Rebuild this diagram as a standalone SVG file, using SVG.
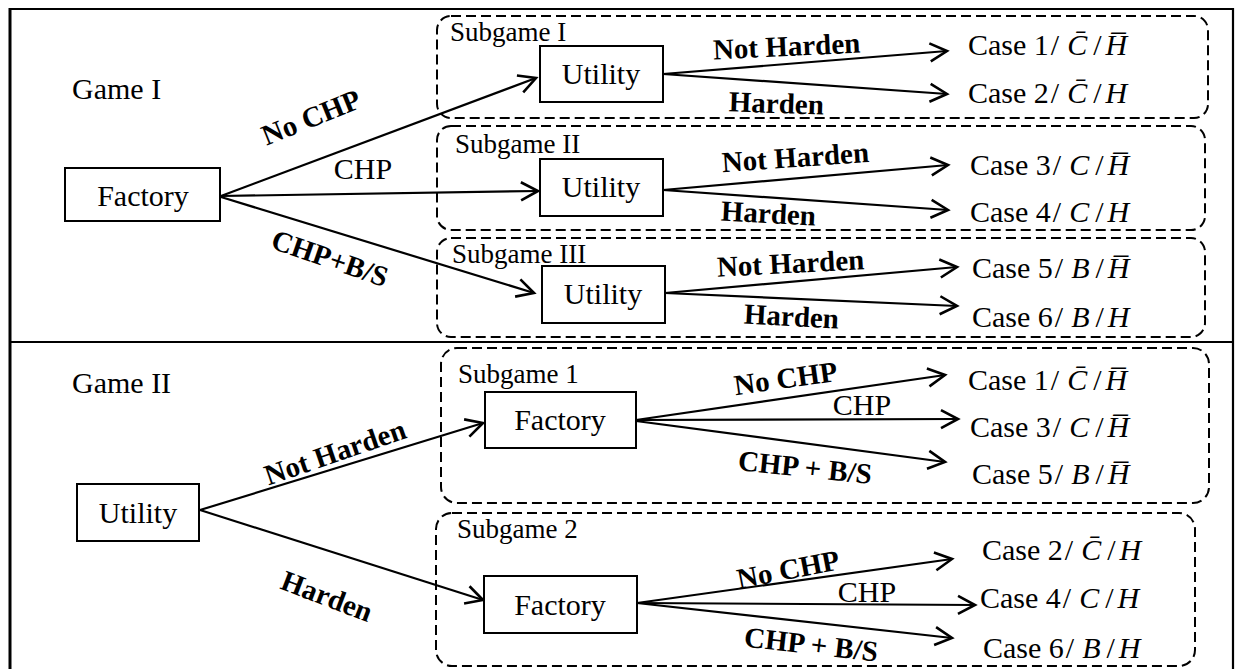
<svg xmlns="http://www.w3.org/2000/svg" width="1236" height="669" viewBox="0 0 1236 669">
  <style>
    .frame { stroke: #000; stroke-width: 2.2; fill: none; }
    .box { fill: #fff; stroke: #000; stroke-width: 2; }
    .grp { fill: none; stroke: #000; stroke-width: 2; stroke-dasharray: 10 5; }
    .edge { fill: none; stroke: #000; stroke-width: 2.2; marker-end: url(#open); }
    text { font-family: "Liberation Serif", "Times New Roman", serif; fill: #000; }
    .node { font-size: 30px; text-anchor: middle; }
    .title { font-size: 30px; }
    .sub { font-size: 27px; }
    .lbl { font-size: 29px; font-weight: bold; text-anchor: middle; }
    .plain { font-size: 30px; text-anchor: middle; }
    .case { font-size: 30px; }
    .m { font-style: italic; }
  </style>
  <defs>
    <marker id="open" markerUnits="userSpaceOnUse" markerWidth="24" markerHeight="24" viewBox="-20 -12 24 24" refX="0" refY="0" orient="auto">
      <path d="M-17,-9 L0,0 L-17,9" fill="none" stroke="#000" stroke-width="2.6" stroke-linejoin="miter"/>
    </marker>
  </defs>

  <!-- outer frame, split into the two games -->
  <g id="frame">
    <line class="frame" x1="10" y1="9" x2="1233" y2="9"/>
    <line class="frame" x1="10" y1="8" x2="10" y2="669" style="stroke-width:3"/>
    <line class="frame" x1="1233" y1="8" x2="1233" y2="669"/>
    <line class="frame" x1="10" y1="342" x2="1233" y2="342"/>
  </g>

  <!-- subgame regions -->
  <g id="subgames">
    <rect class="grp" x="437" y="16" width="771" height="102" rx="14"/>
    <rect class="grp" x="437" y="126" width="768" height="104" rx="14"/>
    <rect class="grp" x="437" y="238" width="768" height="99" rx="14"/>
    <rect class="grp" x="441" y="348" width="768" height="155" rx="16"/>
    <rect class="grp" x="436" y="513" width="759" height="153" rx="16"/>
    <text class="sub" x="450" y="41">Subgame I</text>
    <text class="sub" x="455" y="153">Subgame II</text>
    <text class="sub" x="452" y="263">Subgame III</text>
    <text class="sub" x="458" y="383">Subgame 1</text>
    <text class="sub" x="457" y="538">Subgame 2</text>
  </g>

  <text class="title" x="72" y="99">Game I</text>
  <text class="title" x="72" y="393">Game II</text>

  <!-- connectors -->
  <g id="connectors">
    <line class="edge" x1="221" y1="196" x2="536" y2="78"/>
    <line class="edge" x1="221" y1="196" x2="538" y2="191"/>
    <line class="edge" x1="221" y1="197" x2="534" y2="293"/>

    <line class="edge" x1="663" y1="74" x2="947" y2="51"/>
    <line class="edge" x1="663" y1="74" x2="947" y2="94"/>
    <line class="edge" x1="663" y1="190" x2="948" y2="165"/>
    <line class="edge" x1="663" y1="190" x2="948" y2="210"/>
    <line class="edge" x1="665" y1="293" x2="957" y2="267"/>
    <line class="edge" x1="665" y1="293" x2="957" y2="306"/>

    <line class="edge" x1="200" y1="510" x2="483" y2="423"/>
    <line class="edge" x1="200" y1="510" x2="483" y2="600"/>

    <line class="edge" x1="636" y1="420" x2="945" y2="375"/>
    <line class="edge" x1="636" y1="420" x2="958" y2="419"/>
    <line class="edge" x1="636" y1="421" x2="945" y2="462"/>
    <line class="edge" x1="637" y1="603" x2="952" y2="559"/>
    <line class="edge" x1="637" y1="603" x2="975" y2="605"/>
    <line class="edge" x1="637" y1="603" x2="952" y2="638"/>

    <!-- decision labels -->
    <text class="lbl" transform="translate(311,117) rotate(-22)" y="10">No CHP</text>
    <text class="plain" x="363" y="179">CHP</text>
    <text class="lbl" transform="translate(330,258) rotate(19)" y="10">CHP+B/S</text>

    <text class="lbl" transform="translate(787,56) rotate(-2.7)">Not Harden</text>
    <text class="lbl" transform="translate(776,113) rotate(2)">Harden</text>
    <text class="lbl" transform="translate(796,167) rotate(-4)">Not Harden</text>
    <text class="lbl" transform="translate(768,223) rotate(3)">Harden</text>
    <text class="lbl" transform="translate(791,273) rotate(-3)">Not Harden</text>
    <text class="lbl" transform="translate(791,326) rotate(3)">Harden</text>

    <text class="lbl" transform="translate(335,452) rotate(-19)" y="10">Not Harden</text>
    <text class="lbl" transform="translate(327,596) rotate(21)" y="10">Harden</text>

    <text class="lbl" transform="translate(787,388) rotate(-8)">No CHP</text>
    <text class="plain" x="862" y="415">CHP</text>
    <text class="lbl" transform="translate(804,477) rotate(6)">CHP + B/S</text>
    <text class="lbl" transform="translate(790,579) rotate(-11)">No CHP</text>
    <text class="plain" x="867" y="602">CHP</text>
    <text class="lbl" transform="translate(810,654) rotate(6.5)">CHP + B/S</text>
  </g>

  <!-- decision nodes -->
  <g id="factory-g1">
    <rect class="box" x="65" y="168" width="155" height="53"/>
    <text class="node" x="143" y="206">Factory</text>
  </g>
  <g id="utility-s1">
    <rect class="box" x="540" y="46" width="123" height="56"/>
    <text class="node" x="601" y="84">Utility</text>
  </g>
  <g id="utility-s2">
    <rect class="box" x="540" y="159" width="123" height="57"/>
    <text class="node" x="601" y="197">Utility</text>
  </g>
  <g id="utility-s3">
    <rect class="box" x="542" y="266" width="123" height="57"/>
    <text class="node" x="603" y="304">Utility</text>
  </g>
  <g id="utility-g2">
    <rect class="box" x="77" y="484" width="122" height="57"/>
    <text class="node" x="138" y="523">Utility</text>
  </g>
  <g id="factory-s1">
    <rect class="box" x="485" y="392" width="151" height="56"/>
    <text class="node" x="560" y="430">Factory</text>
  </g>
  <g id="factory-s2">
    <rect class="box" x="484" y="576" width="153" height="57"/>
    <text class="node" x="560" y="615">Factory</text>
  </g>

  <!-- outcomes: C̄ uses a combining macron, H̄ a combining overline -->
  <g id="outcomes">
    <text class="case" x="968" y="55">Case 1<tspan dx="2">/</tspan><tspan class="m" dx="8">C&#x304;</tspan><tspan dx="6">/</tspan><tspan class="m" dx="4">H&#x305;</tspan></text>
    <text class="case" x="968" y="103">Case 2<tspan dx="2">/</tspan><tspan class="m" dx="8">C&#x304;</tspan><tspan dx="6">/</tspan><tspan class="m" dx="4">H</tspan></text>
    <text class="case" x="970" y="175">Case 3<tspan dx="2">/</tspan><tspan class="m" dx="8">C</tspan><tspan dx="6">/</tspan><tspan class="m" dx="4">H&#x305;</tspan></text>
    <text class="case" x="970" y="222">Case 4<tspan dx="2">/</tspan><tspan class="m" dx="8">C</tspan><tspan dx="6">/</tspan><tspan class="m" dx="4">H</tspan></text>
    <text class="case" x="972" y="278">Case 5<tspan dx="2">/</tspan><tspan class="m" dx="8">B</tspan><tspan dx="6">/</tspan><tspan class="m" dx="4">H&#x305;</tspan></text>
    <text class="case" x="972" y="327">Case 6<tspan dx="2">/</tspan><tspan class="m" dx="8">B</tspan><tspan dx="6">/</tspan><tspan class="m" dx="4">H</tspan></text>

    <text class="case" x="968" y="390">Case 1<tspan dx="2">/</tspan><tspan class="m" dx="8">C&#x304;</tspan><tspan dx="6">/</tspan><tspan class="m" dx="4">H&#x305;</tspan></text>
    <text class="case" x="970" y="437">Case 3<tspan dx="2">/</tspan><tspan class="m" dx="8">C</tspan><tspan dx="6">/</tspan><tspan class="m" dx="4">H&#x305;</tspan></text>
    <text class="case" x="972" y="484">Case 5<tspan dx="2">/</tspan><tspan class="m" dx="8">B</tspan><tspan dx="6">/</tspan><tspan class="m" dx="4">H&#x305;</tspan></text>
    <text class="case" x="982" y="560">Case 2<tspan dx="2">/</tspan><tspan class="m" dx="8">C&#x304;</tspan><tspan dx="6">/</tspan><tspan class="m" dx="4">H</tspan></text>
    <text class="case" x="980" y="608">Case 4<tspan dx="2">/</tspan><tspan class="m" dx="8">C</tspan><tspan dx="6">/</tspan><tspan class="m" dx="4">H</tspan></text>
    <text class="case" x="983" y="658">Case 6<tspan dx="2">/</tspan><tspan class="m" dx="8">B</tspan><tspan dx="6">/</tspan><tspan class="m" dx="4">H</tspan></text>
  </g>
</svg>
